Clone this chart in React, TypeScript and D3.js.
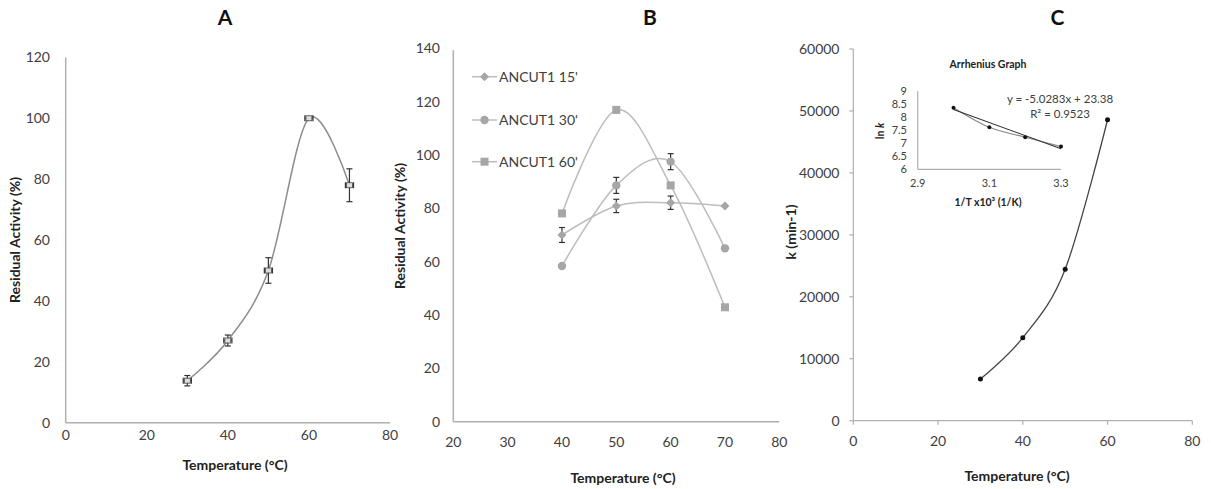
import React from 'react';
import * as d3 from 'd3';

// ---------- Data ----------
const tempA = [30, 40, 50, 60, 70];
const activityA = [13.8, 27, 50, 100, 78];
const errYA = [1.7, 1.8, 4.2, 0.5, 5.4];
const errXA = [1, 1, 1, 1, 1];

const tempB = [40, 50, 60, 70];
const act15 = [70, 80.9, 82.1, 80.9];
const err15 = [2.8, 2.5, 2.5, 0];
const act30 = [58.4, 88.6, 97.5, 65];
const err30 = [0, 3, 3, 0];
const act60 = [78.1, 116.9, 88.6, 42.9];
const err60 = [0, 1, 0, 0];
const seriesNamesB = ["ANCUT1 15'", "ANCUT1 30'", "ANCUT1 60'"];

const tempC = [30, 40, 50, 60];
const kC = [6740, 13410, 24460, 48580];

const invT = [3.0, 3.1, 3.2, 3.3];
const lnK = [8.36, 7.61, 7.23, 6.87];
const trendSlope = -5.0283;
const trendIntercept = 23.38;

const ticksA_x = [0, 20, 40, 60, 80];
const ticksA_y = [0, 20, 40, 60, 80, 100, 120];
const ticksB_x = [20, 30, 40, 50, 60, 70, 80];
const ticksB_y = [0, 20, 40, 60, 80, 100, 120, 140];
const ticksC_x = [0, 20, 40, 60, 80];
const ticksC_y = [0, 10000, 20000, 30000, 40000, 50000, 60000];
const ticksIn_x = [2.9, 3.1, 3.3];
const ticksIn_y = [6, 6.5, 7, 7.5, 8, 8.5, 9];

const FONT = 'Lato, "Open Sans", "Liberation Sans", sans-serif';
const AXIS = '#b0b0b0';
const TXT = '#404040';

const smooth = d3.curveCardinal.tension(0);

export default function App() {
  // Panel A scales
  const xA = d3.scaleLinear().domain([0, 80]).range([65.7, 390]);
  const yA = d3.scaleLinear().domain([0, 120]).range([422.7, 57.4]);
  // Panel B
  const xB = d3.scaleLinear().domain([20, 80]).range([453.3, 779.3]);
  const yB = d3.scaleLinear().domain([0, 140]).range([421.7, 48.3]);
  // Panel C
  const xC = d3.scaleLinear().domain([0, 80]).range([853.3, 1192.3]);
  const yC = d3.scaleLinear().domain([0, 60000]).range([420.7, 49]);
  // Inset
  const xI = d3.scaleLinear().domain([2.9, 3.3]).range([917.7, 1061]);
  const yI = d3.scaleLinear().domain([6, 9]).range([169.3, 91]);

  const lineA = d3.line<number>().x((_, i) => xA(tempA[i])).y((d) => yA(d)).curve(smooth);
  const lineB = d3.line<number>().x((_, i) => xB(tempB[i])).y((d) => yB(d)).curve(smooth);
  const lineC = d3.line<number>().x((_, i) => xC(tempC[i])).y((d) => yC(d)).curve(smooth);
  const lineI = d3.line<number>().x((_, i) => xI(invT[i])).y((d) => yI(d)).curve(smooth);

  const seriesB = [
    { name: seriesNamesB[0], vals: act15, err: err15, shape: 'diamond' },
    { name: seriesNamesB[1], vals: act30, err: err30, shape: 'circle' },
    { name: seriesNamesB[2], vals: act60, err: err60, shape: 'square' },
  ];
  const markerFill = '#a6a6a6';
  const lineGray = '#bdbdbd';

  const marker = (shape: string, cx: number, cy: number, key?: any) => {
    if (shape === 'diamond')
      return <path key={key} d={`M${cx},${cy - 4.5}L${cx + 4.5},${cy}L${cx},${cy + 4.5}L${cx - 4.5},${cy}Z`} fill={markerFill} />;
    if (shape === 'circle') return <circle key={key} cx={cx} cy={cy} r={4.2} fill={markerFill} />;
    return <rect key={key} x={cx - 4} y={cy - 4} width={8} height={8} fill={markerFill} />;
  };

  const vErr = (cx: number, y1: number, y2: number, key: any, color = '#333') => (
    <g key={key} stroke={color} strokeWidth={1.2}>
      <line x1={cx} x2={cx} y1={y1} y2={y2} />
      <line x1={cx - 3} x2={cx + 3} y1={y1} y2={y1} />
      <line x1={cx - 3} x2={cx + 3} y1={y2} y2={y2} />
    </g>
  );

  const hErr = (cy: number, x1: number, x2: number, key: any) => (
    <g key={key} stroke="#333" strokeWidth={1.2}>
      <line x1={x1} x2={x2} y1={cy} y2={cy} />
      <line x1={x1} x2={x1} y1={cy - 3} y2={cy + 3} />
      <line x1={x2} x2={x2} y1={cy - 3} y2={cy + 3} />
    </g>
  );

  return (
    <svg
      width={1211}
      height={489}
      style={{ position: 'absolute', left: 0, top: 0, background: '#fff' }}
      fontFamily={FONT}
    >
      <rect width={1211} height={489} fill="#fff" />
      {/* Titles */}
      <g fontSize={21} fontWeight="bold" fill="#111" textAnchor="middle">
        <text x={225} y={25}>A</text>
        <text x={650} y={25}>B</text>
        <text x={1057.5} y={25}>C</text>
      </g>

      {/* ---------- Panel A ---------- */}
      <g>
        <line x1={xA(0)} x2={xA(0)} y1={yA(120)} y2={yA(0)} stroke={AXIS} strokeWidth={1.5} />
        <line x1={xA(0)} x2={xA(80)} y1={yA(0)} y2={yA(0)} stroke={AXIS} strokeWidth={1.5} />
        <g fontSize={14} fill={TXT}>
          {ticksA_y.map((t) => (
            <text key={t} x={50} y={yA(t)} dy="0.35em" textAnchor="end">{t}</text>
          ))}
          {ticksA_x.map((t) => (
            <text key={t} x={xA(t)} y={440} textAnchor="middle">{t}</text>
          ))}
        </g>
        <text x={235} y={470} fontSize={14} fontWeight="bold" fill="#222" textAnchor="middle">Temperature (°C)</text>
        <text transform="translate(20,240) rotate(-90)" fontSize={14} fontWeight="bold" fill="#222" textAnchor="middle">Residual Activity (%)</text>
        <path d={lineA(activityA) || ''} fill="none" stroke="#8c8c8c" strokeWidth={1.5} />
        {activityA.map((v, i) => (
          <g key={i}>
            {vErr(xA(tempA[i]), yA(v + errYA[i]), yA(v - errYA[i]), 'v' + i)}
            {hErr(yA(v), xA(tempA[i] - errXA[i]), xA(tempA[i] + errXA[i]), 'h' + i)}
            <rect x={xA(tempA[i]) - 3} y={yA(v) - 2.5} width={6} height={5} fill="#ddd" stroke="#444" strokeWidth={0.8} />
          </g>
        ))}
      </g>

      {/* ---------- Panel B ---------- */}
      <g>
        <line x1={xB(20)} x2={xB(20)} y1={yB(140) + 2} y2={yB(0)} stroke={AXIS} strokeWidth={1.5} />
        <line x1={xB(20)} x2={xB(80)} y1={yB(0)} y2={yB(0)} stroke={AXIS} strokeWidth={1.5} />
        <g fontSize={14} fill={TXT}>
          {ticksB_y.map((t) => (
            <text key={t} x={440} y={yB(t)} dy="0.35em" textAnchor="end">{t}</text>
          ))}
          {ticksB_x.map((t) => (
            <text key={t} x={xB(t)} y={447} textAnchor="middle">{t}</text>
          ))}
        </g>
        <text x={623} y={483} fontSize={14} fontWeight="bold" fill="#222" textAnchor="middle">Temperature (°C)</text>
        <text transform="translate(405,226) rotate(-90)" fontSize={14} fontWeight="bold" fill="#222" textAnchor="middle">Residual Activity (%)</text>
        {seriesB.map((s, si) => (
          <path key={si} d={lineB(s.vals) || ''} fill="none" stroke={lineGray} strokeWidth={1.5} />
        ))}
        {seriesB.map((s, si) =>
          s.vals.map((v, i) => (
            <g key={si + '-' + i}>
              {s.err[i] > 0 ? vErr(xB(tempB[i]), yB(v + s.err[i]), yB(v - s.err[i]), 'e') : null}
              {marker(s.shape, xB(tempB[i]), yB(v))}
            </g>
          ))
        )}
        {/* Legend */}
        {seriesB.map((s, si) => {
          const ly = [76.7, 120, 161.7][si];
          return (
            <g key={'lg' + si}>
              <line x1={472} x2={497} y1={ly} y2={ly} stroke={lineGray} strokeWidth={1.5} />
              {marker(s.shape, 484.5, ly)}
              <text x={499} y={ly} dy="0.35em" fontSize={14} fill={TXT}>{s.name}</text>
            </g>
          );
        })}
      </g>

      {/* ---------- Panel C ---------- */}
      <g>
        <line x1={xC(0)} x2={xC(0)} y1={yC(60000)} y2={yC(0)} stroke={AXIS} strokeWidth={1.2} />
        <line x1={xC(0)} x2={xC(80)} y1={yC(0)} y2={yC(0)} stroke={AXIS} strokeWidth={1.2} />
        {ticksC_y.map((t) => (
          <line key={'ty' + t} x1={xC(0) - 4} x2={xC(0)} y1={yC(t)} y2={yC(t)} stroke={AXIS} strokeWidth={1.2} />
        ))}
        {ticksC_x.map((t) => (
          <line key={'tx' + t} x1={xC(t)} x2={xC(t)} y1={yC(0)} y2={yC(0) + 4} stroke={AXIS} strokeWidth={1.2} />
        ))}
        <g fontSize={14} fill={TXT}>
          {ticksC_y.map((t) => (
            <text key={t} x={839.5} y={yC(t)} dy="0.35em" textAnchor="end">{t}</text>
          ))}
          {ticksC_x.map((t) => (
            <text key={t} x={xC(t)} y={446} textAnchor="middle">{t}</text>
          ))}
        </g>
        <text x={1017} y={481} fontSize={14} fontWeight="bold" fill="#222" textAnchor="middle">Temperature (°C)</text>
        <text transform="translate(796,232) rotate(-90)" fontSize={14} fontWeight="bold" fill="#222" textAnchor="middle">k (min-1)</text>
        <path d={lineC(kC) || ''} fill="none" stroke="#444" strokeWidth={1.3} />
        {kC.map((v, i) => (
          <circle key={i} cx={xC(tempC[i])} cy={yC(v)} r={2.5} fill="#111" />
        ))}

        {/* Inset */}
        <line x1={xI(2.9)} x2={xI(2.9)} y1={yI(9)} y2={yI(6)} stroke={AXIS} strokeWidth={1.2} />
        <line x1={xI(2.9)} x2={xI(3.3)} y1={yI(6)} y2={yI(6)} stroke={AXIS} strokeWidth={1.2} />
        <g fontSize={11} fill={TXT}>
          {ticksIn_y.map((t) => (
            <text key={t} x={907} y={yI(t)} dy="0.35em" textAnchor="end">{t}</text>
          ))}
          {ticksIn_x.map((t) => (
            <text key={t} x={xI(t)} y={187} textAnchor="middle">{t}</text>
          ))}
        </g>
        <text x={988} y={68} fontSize={10.5} fontWeight="bold" fill="#222" textAnchor="middle">Arrhenius  Graph</text>
        <text x={988} y={206} fontSize={10.5} fontWeight="bold" fill="#222" textAnchor="middle">1/T  x10³ (1/K)</text>
        <text transform="translate(884,131) rotate(-90)" fontSize={10.5} fontWeight="bold" fill="#222" textAnchor="middle">
          ln <tspan fontStyle="italic">k</tspan>
        </text>
        <text x={1060} y={103} fontSize={11.5} fill={TXT} textAnchor="middle">y = -5.0283x + 23.38</text>
        <text x={1060} y={118} fontSize={11.5} fill={TXT} textAnchor="middle">R² = 0.9523</text>
        <path d={lineI(lnK) || ''} fill="none" stroke="#888" strokeWidth={1.1} />
        <line
          x1={xI(invT[0])}
          x2={xI(invT[invT.length - 1])}
          y1={yI(trendSlope * invT[0] + trendIntercept)}
          y2={yI(trendSlope * invT[invT.length - 1] + trendIntercept)}
          stroke="#333"
          strokeWidth={1.1}
        />
        {lnK.map((v, i) => (
          <circle key={i} cx={xI(invT[i])} cy={yI(v)} r={2} fill="#111" />
        ))}
      </g>
    </svg>
  );
}
